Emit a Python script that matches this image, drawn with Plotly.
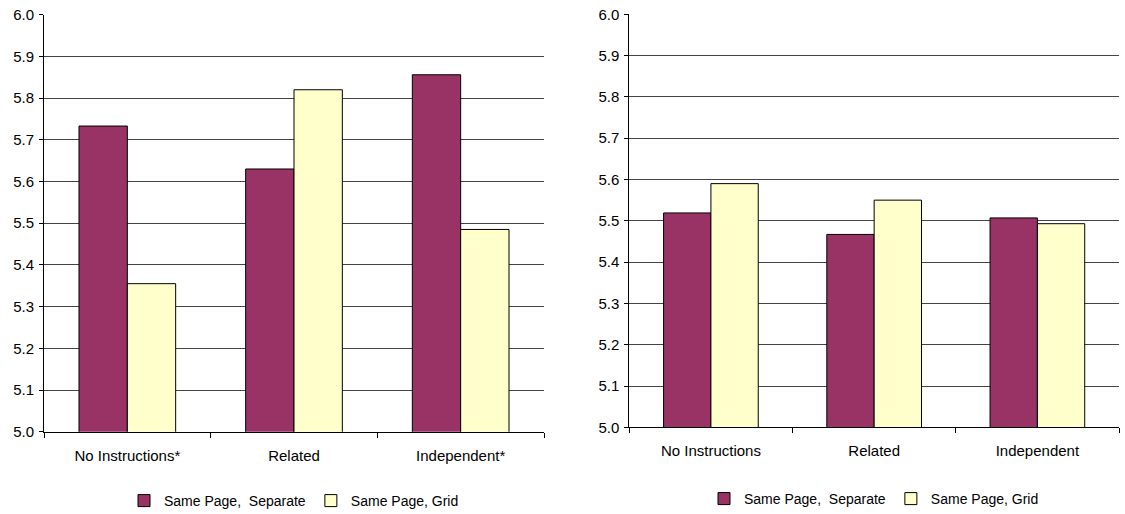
import plotly.graph_objects as go

cats_left = ["No Instructions*", "Related", "Independent*"]
cats_right = ["No Instructions", "Related", "Independent"]
series_names = ["Same Page,\u00a0 Separate", "Same Page, Grid"]
left_separate = [5.733, 5.630, 5.856]
left_grid = [5.355, 5.820, 5.485]
right_separate = [5.519, 5.467, 5.507]
right_grid = [5.590, 5.550, 5.493]
y_ticks = [5.0, 5.1, 5.2, 5.3, 5.4, 5.5, 5.6, 5.7, 5.8, 5.9, 6.0]

MAROON = "#993366"
YELLOW = "#FFFFCC"
FONT = "Liberation Sans, Arial, sans-serif"

fig = go.Figure()
fig.add_trace(go.Bar(x=cats_left, y=left_separate, name=series_names[0],
                     marker=dict(color=MAROON, line=dict(color="black", width=1)),
                     xaxis="x", yaxis="y", legend="legend"))
fig.add_trace(go.Bar(x=cats_left, y=left_grid, name=series_names[1],
                     marker=dict(color=YELLOW, line=dict(color="black", width=1)),
                     xaxis="x", yaxis="y", legend="legend"))
fig.add_trace(go.Bar(x=cats_right, y=right_separate, name=series_names[0],
                     marker=dict(color=MAROON, line=dict(color="black", width=1)),
                     xaxis="x2", yaxis="y2", legend="legend2"))
fig.add_trace(go.Bar(x=cats_right, y=right_grid, name=series_names[1],
                     marker=dict(color=YELLOW, line=dict(color="black", width=1)),
                     xaxis="x2", yaxis="y2", legend="legend2"))

W, H = 1125, 514
xax = dict(showgrid=False, showline=True, linecolor="black", linewidth=1,
           ticks="outside", tickson="boundaries", ticklen=5, tickcolor="black",
           tickfont=dict(family=FONT, size=15, color="black"), ticklabelstandoff=10,
           automargin=False)
yax = dict(range=[5.0, 6.0], tickvals=y_ticks, tickformat=".1f", showgrid=True,
           gridcolor="#444444", gridwidth=1, showline=True, linecolor="black",
           linewidth=1, ticks="outside", ticklen=4, tickcolor="black",
           tickfont=dict(family=FONT, size=15, color="black"), zeroline=False,
           ticklabelstandoff=2, automargin=False)

fig.update_layout(
    width=W, height=H,
    margin=dict(l=0, r=0, t=0, b=0, autoexpand=False),
    paper_bgcolor="white", plot_bgcolor="white",
    barmode="group", bargap=0.42, bargroupgap=0,
    font=dict(family=FONT, size=14, color="black"),
    xaxis=dict(domain=[44/W, 544/W], anchor="y", **xax),
    yaxis=dict(domain=[1-431.7/H, 1-14.7/H], anchor="x", **yax),
    xaxis2=dict(domain=[629.3/W, 1119/W], anchor="y2", **xax),
    yaxis2=dict(domain=[1-427.3/H, 1-14.3/H], anchor="x2", **yax),
    legend=dict(orientation="h", x=294/W, xanchor="center", y=1-501/H, yanchor="middle",
                itemwidth=30, font=dict(family=FONT, size=14, color="black"),
                bgcolor="rgba(0,0,0,0)", tracegroupgap=0, itemclick=False),
    legend2=dict(orientation="h", x=874/W, xanchor="center", y=1-499/H, yanchor="middle",
                 itemwidth=30, font=dict(family=FONT, size=14, color="black"),
                 bgcolor="rgba(0,0,0,0)", tracegroupgap=0, itemclick=False),
    showlegend=True,
)

fig.write_html("out.html")
